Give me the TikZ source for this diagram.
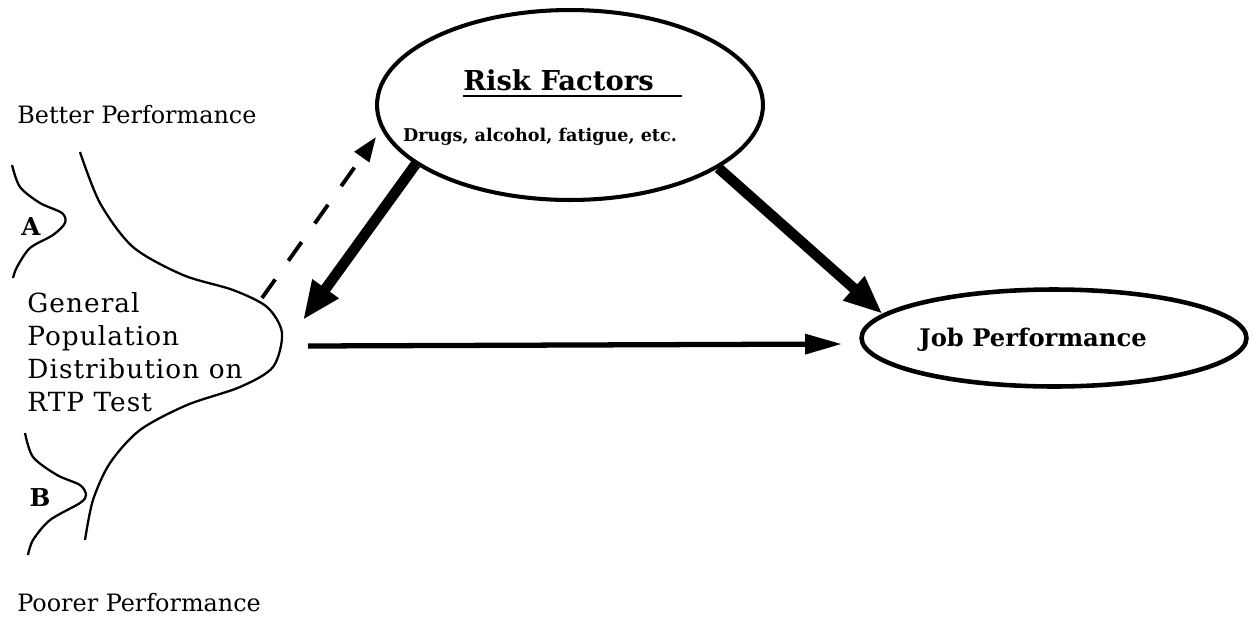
\documentclass[tikz,border=0pt]{standalone}
\usepackage{fontspec}
\setmainfont{DejaVu Serif}
\usetikzlibrary{shapes.geometric,arrows.meta}

\tikzset{
  factor/.style={ellipse, draw, line width=2.3pt, inner sep=0pt},
  fat/.style={line width=6pt, -{Triangle[length=22pt,width=17pt]}},
  plain/.style={line width=3pt, -{Triangle[length=21pt,width=11pt]}},
  dashy/.style={line width=2.2pt, dash pattern=on 13pt off 13pt, -{Triangle[length=14pt,width=10pt]}},
  bell/.style={line width=1.3pt},
  tag/.style={font=\bfseries\fontsize{14}{14}\selectfont, inner sep=0pt}
}

\begin{document}
\begin{tikzpicture}[x=0.02cm, y=-0.02cm]
      \useasboundingbox (0,0) rectangle (1252,620);

      % distributions
      \draw[bell] plot[smooth] coordinates {(80,152) (100,203) (133,247) (183,275) (233,290) (267,307) (282,333) (273,367) (240,387) (187,405) (140,430) (110,463) (93,500) (85,540)};
      \draw[bell] plot[smooth] coordinates {(12,165) (20,187) (40,203) (62,213) (65,223) (53,235) (30,248) (17,267) (13,278)};
      \draw[bell] plot[smooth] coordinates {(25,433) (33,457) (57,475) (80,485) (86,495) (80,503) (50,520) (33,540) (28,555)};

      \node[tag] (a) at (31,227) {A};
      \node[tag] (b) at (40,498) {B};

      \node[anchor=base west, inner sep=0pt, font=\fontsize{13.6}{16}\selectfont] (better) at (17,123) {Better Performance};
      \node[anchor=base west, inner sep=0pt, font=\fontsize{13.6}{16}\selectfont] (poorer) at (17,611) {Poorer Performance};
      \node[anchor=west, inner sep=0pt, align=left, font=\addfontfeatures{LetterSpace=4}\fontsize{15}{18.8}\selectfont] (dist) at (27,352) {General\\Population\\Distribution on\\RTP Test};

      % risk factors and outcome
      \node[factor, minimum width=7.72cm, minimum height=3.8cm] (risk) at (570,105) {};
      \node[anchor=base west, inner sep=0pt, font=\bfseries\fontsize{15.6}{17}\selectfont] (rtitle) at (463,90) {Risk Factors};
      \draw[line width=1.6pt] (rtitle.base west) ++(0,6) -- ++(219,0);
      \node[inner sep=0pt, font=\bfseries\fontsize{10}{12}\selectfont] (rlist) at (540,137) {Drugs, alcohol, fatigue, etc.};

      \node[factor, line width=2.6pt, minimum width=7.7cm, minimum height=1.94cm] (job) at (1054,338) {};
      \node[inner sep=0pt, font=\bfseries\fontsize{13.8}{15}\selectfont] (jtext) at (1033,340) {Job Performance};

      \coordinate (tipL) at (303,320);
      \coordinate (hstart) at (308,346);
      \coordinate (hend) at (842,344);
      \coordinate (dstart) at (262,298);
      \coordinate (dend) at (376,137);

      \draw[fat] (risk.201) -- (tipL);
      \draw[fat] (risk.337) -- (job.172);
      \draw[plain] (hstart) -- (hend);
      \draw[dashy] (dstart) -- (dend);

\end{tikzpicture}
\end{document}
